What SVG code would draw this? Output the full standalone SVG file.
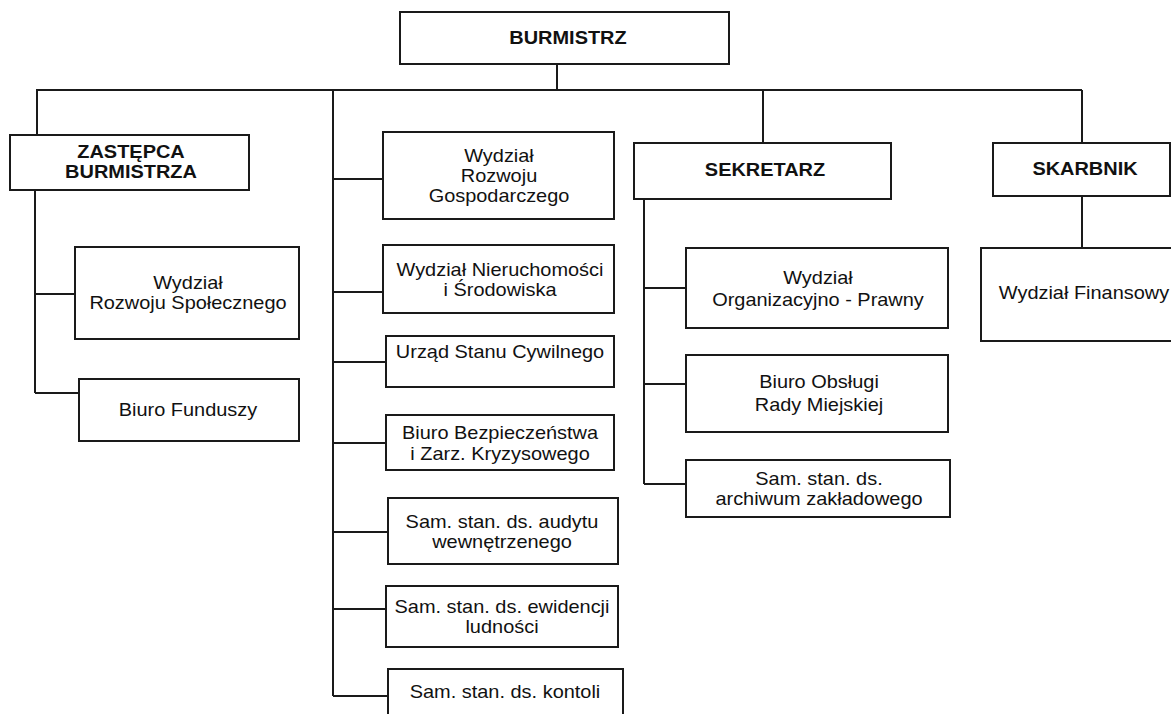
<svg xmlns="http://www.w3.org/2000/svg" width="1171" height="714" viewBox="0 0 1171 714">
<style>
  .box { fill: #ffffff; stroke: #1a1a1a; stroke-width: 2; }
  .con { fill: none; stroke: #1a1a1a; stroke-width: 2; }
  text { font-family: "Liberation Sans", Arial, sans-serif; font-size: 17.5px; fill: #111111; text-anchor: middle; }
  .b { font-weight: bold; }
</style>
<rect width="1171" height="714" fill="#ffffff"/>
<g id="connectors" class="con">
  <path d="M557 64 V90"/>
  <path d="M36 90 H1082"/>
  <path d="M37 90 V135"/>
  <path d="M763 90 V143"/>
  <path d="M1082 90 V143"/>
  <path d="M35 190 V393 M35 294 H75 M35 393 H79"/>
  <path d="M333 90 V696 M333 179 H383 M333 292 H383 M333 362 H386 M333 443 H386 M333 532 H388 M333 609 H386 M333 696 H388"/>
  <path d="M644 199 V484 M644 288 H686 M644 384 H686 M644 484 H686"/>
  <path d="M1082 196 V248"/>
</g>
<g id="burmistrz">
  <rect class="box" x="400" y="12" width="329" height="52"/>
  <text class="b" transform="translate(568 0) scale(1.14 1)" x="0" y="44">BURMISTRZ</text>
</g>
<g id="zastepca">
  <rect class="box" x="10" y="135" width="239" height="55"/>
  <text class="b" transform="translate(131 0) scale(1.14 1)"><tspan x="0" y="158">ZASTĘPCA</tspan><tspan x="0" y="178">BURMISTRZA</tspan></text>
</g>
<g id="sekretarz">
  <rect class="box" x="634" y="143" width="257" height="56"/>
  <text class="b" transform="translate(765 0) scale(1.14 1)" x="0" y="176">SEKRETARZ</text>
</g>
<g id="skarbnik">
  <rect class="box" x="993" y="143" width="177" height="53"/>
  <text class="b" transform="translate(1085 0) scale(1.14 1)" x="0" y="175">SKARBNIK</text>
</g>
<g id="wydzial-rozwoju-spolecznego">
  <rect class="box" x="75" y="247" width="224" height="92"/>
  <text transform="translate(188 0) scale(1.14 1)"><tspan x="0" y="289">Wydział</tspan><tspan x="0" y="309">Rozwoju Społecznego</tspan></text>
</g>
<g id="biuro-funduszy">
  <rect class="box" x="79" y="379" width="220" height="62"/>
  <text transform="translate(188 0) scale(1.14 1)" x="0" y="416">Biuro Funduszy</text>
</g>
<g id="wydzial-rozwoju-gospodarczego">
  <rect class="box" x="383" y="132" width="231" height="87"/>
  <text transform="translate(499 0) scale(1.14 1)"><tspan x="0" y="162">Wydział</tspan><tspan x="0" y="182">Rozwoju</tspan><tspan x="0" y="202">Gospodarczego</tspan></text>
</g>
<g id="wydzial-nieruchomosci">
  <rect class="box" x="383" y="245" width="231" height="68"/>
  <text transform="translate(500 0) scale(1.14 1)"><tspan x="0" y="276">Wydział Nieruchomości</tspan><tspan x="0" y="296">i Środowiska</tspan></text>
</g>
<g id="urzad-stanu-cywilnego">
  <rect class="box" x="386" y="336" width="228" height="51"/>
  <text transform="translate(500 0) scale(1.14 1)" x="0" y="358">Urząd Stanu Cywilnego</text>
</g>
<g id="biuro-bezpieczenstwa">
  <rect class="box" x="386" y="415" width="228" height="55"/>
  <text transform="translate(500 0) scale(1.14 1)"><tspan x="0" y="439">Biuro Bezpieczeństwa</tspan><tspan x="0" y="460">i Zarz. Kryzysowego</tspan></text>
</g>
<g id="audyt">
  <rect class="box" x="388" y="498" width="230" height="66"/>
  <text transform="translate(502 0) scale(1.14 1)"><tspan x="0" y="528">Sam. stan. ds. audytu</tspan><tspan x="0" y="548">wewnętrzenego</tspan></text>
</g>
<g id="ewidencja">
  <rect class="box" x="386" y="586" width="232" height="61"/>
  <text transform="translate(502 0) scale(1.14 1)"><tspan x="0" y="613">Sam. stan. ds. ewidencji</tspan><tspan x="0" y="633">ludności</tspan></text>
</g>
<g id="kontrola">
  <rect class="box" x="388" y="669" width="235" height="60"/>
  <text transform="translate(505 0) scale(1.14 1)" x="0" y="698">Sam. stan. ds. kontoli</text>
</g>
<g id="wydzial-organizacyjno-prawny">
  <rect class="box" x="686" y="248" width="262" height="80"/>
  <text transform="translate(818 0) scale(1.14 1)"><tspan x="0" y="284">Wydział</tspan><tspan x="0" y="306">Organizacyjno - Prawny</tspan></text>
</g>
<g id="biuro-obslugi-rady">
  <rect class="box" x="686" y="355" width="262" height="77"/>
  <text transform="translate(819 0) scale(1.14 1)"><tspan x="0" y="388">Biuro Obsługi</tspan><tspan x="0" y="411">Rady Miejskiej</tspan></text>
</g>
<g id="archiwum">
  <rect class="box" x="686" y="460" width="264" height="57"/>
  <text transform="translate(819 0) scale(1.14 1)"><tspan x="0" y="485">Sam. stan. ds.</tspan><tspan x="0" y="505">archiwum zakładowego</tspan></text>
</g>
<g id="wydzial-finansowy">
  <rect class="box" x="981" y="248" width="200" height="93"/>
  <text transform="translate(1084 0) scale(1.14 1)" x="0" y="299">Wydział Finansowy</text>
</g>
</svg>
